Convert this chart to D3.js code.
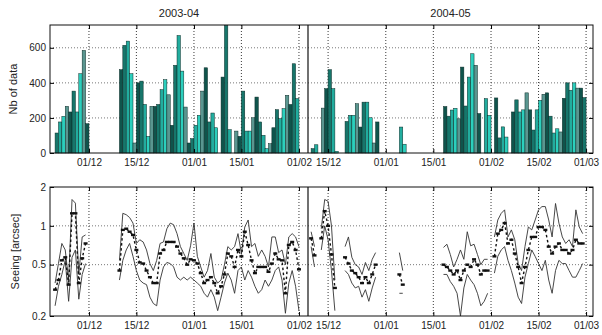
<!DOCTYPE html>
<html>
<head>
<meta charset="utf-8">
<script src="https://cdn.jsdelivr.net/npm/d3@7"></script>
<style>
  body { margin: 0; background: #fff; }
  text { font-family: "Liberation Sans", Arial, sans-serif; fill: #222; }
</style>
</head>
<body>
<div id="chart"></div>
<script>
// ---- data ----
const titles = ['2003-04', '2004-05'];
const tickDates2003 = ['2003-12-01', '2003-12-15', '2004-01-01', '2004-01-15', '2004-02-01'];
const tickDates2004 = ['2004-12-15', '2005-01-01', '2005-01-15', '2005-02-01', '2005-02-15', '2005-03-01'];
const nbTicks = [0, 200, 400, 600];
const seeingTicks = [0.2, 0.5, 1, 2];

// number of data per night, one value per day from the start date (0 = no data)
const nbStart2003 = '2003-11-21';
const nb2003 = [114, 177, 209, 266, 234, 353, 234, 452, 585, 167,
  0, 0, 0, 0, 0, 0, 0, 0, 0,
  475, 614, 638, 452, 57, 400, 410, 277, 95, 266, 266, 277, 361, 418, 332, 158, 500, 670, 467, 262, 57, 82,
  158, 215, 353, 486, 177, 228, 144, 0, 433, 728, 133, 0, 125, 95, 353, 125, 125, 201, 319, 177,
  101, 25, 53, 144, 247, 196, 253, 329, 277, 509, 310];

const nbStart2004 = '2004-12-10';
const nb2004 = [25, 47, 0, 256, 367, 475, 367, 10, 0, 0, 180, 215, 215, 281, 148, 290, 290, 201, 57, 177, 0, 0,
  0, 0, 0, 0, 148, 50, 0, 0, 0, 0, 0, 0, 0, 0, 0, 0, 0,
  265, 210, 245, 255, 195, 490, 268, 433, 566, 500, 225, 0, 310, 215,
  0, 314, 86, 149, 91, 0, 234, 303, 234, 246, 343, 246, 131, 246, 300, 335, 343, 210, 114, 138, 120,
  312, 400, 358, 400, 370, 370, 316];

// seeing [arcsec]: upper, median, lower envelope per day (null = no data)
const seeingStart2003 = '2003-11-21';
const seeingUp2003 = [0.36, 0.51, 0.73, 0.65, 0.38, 1.6, 1.5, 0.42, 0.82, 0.85,
  null, null, null, null, null, null, null, null, null,
  0.54, 1.25, 1.22, 1.16, 1.05, 0.73, 0.78, 0.75, 0.65, 0.51, 0.45, 0.54, 0.73, 0.75, 0.95, 1.05, 1.02, 0.87, 0.69, 0.61, 0.54, 0.70,
  1.05, 0.58, 0.48, 0.40, 0.45, 0.61, 0.40, 0.36, 0.38, 0.50, 0.69, 0.65, 0.69, 0.87, 0.61, 0.98,
  1.11, 0.69, 0.73, 0.58, 0.65, 0.58, 0.48, 0.82, 0.82, 0.62, 0.65, 0.50, 0.82, 0.87, 0.82, 0.69];
const seeingMed2003 = [0.32, 0.38, 0.54, 0.57, 0.35, 1.25, 1.25, 0.36, 0.56, 0.73,
  null, null, null, null, null, null, null, null, null,
  0.45, 0.93, 0.95, 0.90, 0.85, 0.65, 0.52, 0.51, 0.45, 0.40, 0.36, 0.36, 0.61, 0.65, 0.75, 0.75, 0.75, 0.69, 0.61, 0.56, 0.50, 0.55,
  0.54, 0.51, 0.43, 0.36, 0.38, 0.40, 0.36, 0.30, 0.34, 0.42, 0.61, 0.58, 0.48, 0.65, 0.58, 0.90,
  0.71, 0.54, 0.43, 0.48, 0.48, 0.48, 0.44, 0.51, 0.61, 0.55, 0.54, 0.30, 0.71, 0.75, 0.65, 0.46];
const seeingLow2003 = [0.24, 0.34, 0.42, 0.54, 0.26, 0.57, 0.65, 0.27, 0.42, 0.51,
  null, null, null, null, null, null, null, null, null,
  0.38, 0.54, 0.65, 0.73, 0.58, 0.45, 0.38, 0.36, 0.35, 0.28, 0.25, 0.24, 0.38, 0.48, 0.52, 0.51, 0.48, 0.40, 0.38, 0.40, 0.38, 0.40,
  0.38, 0.36, 0.34, 0.30, 0.28, 0.32, 0.28, 0.22, 0.28, 0.36, 0.43, 0.38, 0.30, 0.45, 0.48, 0.38,
  0.45, 0.40, 0.34, 0.30, 0.32, 0.38, 0.34, 0.38, 0.45, 0.48, 0.38, 0.21, 0.36, 0.45, 0.34, 0.22];

const seeingStart2004 = '2004-12-10';
const seeingUp2004 = [0.90, 0.69, null, 0.95, 1.6, 1.55, 1.0, 0.38, null, null,
  0.69, 0.82, 0.57, 0.50, 0.48, 0.42, 0.52, 0.45, 0.55, 0.62,
  null, null, null, null, null, null, 0.62, 0.45,
  null, null, null, null, null, null, null, null, null, null, null,
  0.68, 0.72, 0.60, 0.48, 0.55, 0.65, 0.55, 0.90, 0.70, 0.72, 0.60, 0.50, 0.55, 0.55, null,
  0.82, 1.11, 1.25, 1.33, 0.82, 0.93, 0.78, 0.51, 0.45, 0.69, 0.98, 0.93, 1.11, 1.33,
  1.41, 1.41, 1.11, 0.82, 1.49, 1.05, 0.82, 0.73, 0.78, 0.69, 1.33, 0.98, 0.87];
const seeingMed2004 = [0.80, 0.59, null, 0.80, 1.3, 1.0, 0.60, 0.33, null, null,
  0.57, 0.51, 0.45, 0.43, 0.40, 0.36, 0.40, 0.36, 0.42, 0.50,
  null, null, null, null, null, null, 0.42, 0.35,
  null, null, null, null, null, null, null, null, null, null, null,
  0.50, 0.48, 0.45, 0.42, 0.45, 0.38, 0.45, 0.50, 0.48, 0.55, 0.50, 0.42, 0.45, 0.45, null,
  0.58, 0.87, 0.93, 1.05, 0.73, 0.78, 0.61, 0.48, 0.36, 0.48, 0.65, 0.82, 0.82, 0.98,
  0.98, 0.93, 0.69, 0.61, 0.69, 0.73, 0.65, 0.65, 0.61, 0.65, 0.78, 0.73, 0.73];
const seeingLow2004 = [0.69, 0.48, null, 0.65, 1.0, 0.78, 0.45, 0.22, null, null,
  0.45, 0.42, 0.36, 0.33, 0.34, 0.28, 0.32, 0.26, 0.33, 0.40,
  null, null, null, null, null, null, 0.30, 0.30,
  null, null, null, null, null, null, null, null, null, null, null,
  0.42, 0.42, 0.37, 0.34, 0.30, 0.20, 0.33, 0.42, 0.38, 0.35, 0.30, 0.24, 0.26, 0.30, null,
  0.43, 0.58, 0.65, 0.69, 0.54, 0.45, 0.36, 0.28, 0.25, 0.40, 0.51, 0.65, 0.58, 0.51,
  0.45, 0.54, 0.38, 0.30, 0.45, 0.54, 0.51, 0.51, 0.45, 0.40, 0.40, 0.45, 0.51];

// ---- layout ----
const width = 602, height = 335;
const margin = { left: 50, right: 593 };
const split = 308;
const topPanel = { top: 25, bottom: 153 };
const botPanel = { top: 187, bottom: 316 };
const barColors = ['#17766b', '#2ccfbd', '#0f544c', '#22ad9f', '#5a9690'];

const parse = d3.utcParse('%Y-%m-%d');
const fmt = d3.utcFormat('%d/%m');

const svg = d3.select('#chart').append('svg')
  .attr('width', width)
  .attr('height', height);

const xLeft = d3.scaleUtc()
  .domain([new Date(Date.UTC(2003, 10, 19, 12)), new Date(Date.UTC(2004, 1, 3, 16))])
  .range([margin.left, split]);
const xRight = d3.scaleUtc()
  .domain([new Date(Date.UTC(2004, 11, 9, 2)), new Date(Date.UTC(2005, 2, 3, 1))])
  .range([split, margin.right]);

const yNb = d3.scaleLinear().domain([0, 730]).range([topPanel.bottom, topPanel.top]);
const ySeeing = d3.scaleLog().domain([0.2, 2]).range([botPanel.bottom, botPanel.top]);

function byDay(start, values) {
  const s = parse(start);
  return values.map((v, i) => ({ date: d3.utcDay.offset(s, i), v }));
}

function seeingDays(start, up, med, low) {
  const s = parse(start);
  return up.map((u, i) => ({ date: d3.utcDay.offset(s, i), up: u, med: med[i], low: low[i] }));
}

const seasons = [
  { title: titles[0], x: xLeft, ticks: tickDates2003.map(parse),
    nb: byDay(nbStart2003, nb2003),
    seeing: seeingDays(seeingStart2003, seeingUp2003, seeingMed2003, seeingLow2003) },
  { title: titles[1], x: xRight, ticks: tickDates2004.map(parse),
    nb: byDay(nbStart2004, nb2004),
    seeing: seeingDays(seeingStart2004, seeingUp2004, seeingMed2004, seeingLow2004) }
];

// ---- grids ----
function hGrid(y, values) {
  svg.append('g').selectAll('line')
    .data(values)
    .enter()
    .append('line')
    .attr('x1', margin.left).attr('x2', margin.right)
    .attr('y1', d => y(d)).attr('y2', d => y(d))
    .attr('stroke', '#555')
    .attr('stroke-width', 0.8)
    .attr('stroke-dasharray', '1,2');
}
hGrid(yNb, nbTicks.slice(1));
hGrid(ySeeing, [0.5, 1]);

seasons.forEach(s => {
  [topPanel, botPanel].forEach(p => {
    svg.append('g').selectAll('line')
      .data(s.ticks)
      .enter()
      .append('line')
      .attr('x1', d => s.x(d)).attr('x2', d => s.x(d))
      .attr('y1', p.top).attr('y2', p.bottom)
      .attr('stroke', '#222')
      .attr('stroke-width', 0.9)
      .attr('stroke-dasharray', '1,2');
  });
});

// ---- bars ----
seasons.forEach(s => {
  svg.append('g').selectAll('rect')
    .data(s.nb.map((d, i) => ({ ...d, i })).filter(d => d.v > 0))
    .enter()
    .append('rect')
    .attr('x', d => s.x(d.date))
    .attr('width', d => s.x(d3.utcDay.offset(d.date, 1)) - s.x(d.date))
    .attr('y', d => yNb(d.v))
    .attr('height', d => yNb(0) - yNb(d.v))
    .attr('fill', d => barColors[(d.i * 3) % barColors.length])
    .attr('stroke', '#0b2b27')
    .attr('stroke-width', 0.5);
});

// ---- seeing lines ----
seasons.forEach(s => {
  const mk = key => d3.line()
    .defined(d => d[key] != null)
    .x(d => s.x(d.date))
    .y(d => ySeeing(d[key]));

  ['up', 'low'].forEach(key => {
    svg.append('path')
      .datum(s.seeing)
      .attr('fill', 'none')
      .attr('stroke', '#333')
      .attr('stroke-width', 0.9)
      .attr('d', mk(key));
  });

  svg.append('path')
    .datum(s.seeing)
    .attr('fill', 'none')
    .attr('stroke', '#111')
    .attr('stroke-width', 1.4)
    .attr('stroke-dasharray', '2.5,2.5')
    .attr('d', mk('med'));

  // median markers: short thick dashes
  svg.append('g').selectAll('rect')
    .data(s.seeing.filter(d => d.med != null))
    .enter()
    .append('rect')
    .attr('x', d => s.x(d.date) - 2)
    .attr('y', d => ySeeing(d.med) - 1.2)
    .attr('width', 4)
    .attr('height', 2.4)
    .attr('fill', '#111');
});

// ---- axes ----
seasons.forEach(s => {
  [topPanel, botPanel].forEach(p => {
    const gb = svg.append('g')
      .attr('transform', `translate(0, ${p.bottom})`)
      .call(d3.axisBottom(s.x).tickValues(s.ticks).tickFormat(fmt).tickSize(-4).tickPadding(6));
    gb.select('.domain').remove();
    gb.selectAll('text').style('font-size', '10px');

    const gt = svg.append('g')
      .attr('transform', `translate(0, ${p.top})`)
      .call(d3.axisTop(s.x).tickValues(s.ticks).tickFormat('').tickSize(-4));
    gt.select('.domain').remove();
  });

  svg.append('text')
    .attr('x', (s.x.range()[0] + s.x.range()[1]) / 2)
    .attr('y', 17)
    .attr('text-anchor', 'middle')
    .style('font-size', '11px')
    .text(s.title);
});

function yAxes(y, values, format) {
  const gl = svg.append('g')
    .attr('transform', `translate(${margin.left}, 0)`)
    .call(d3.axisLeft(y).tickValues(values).tickFormat(format).tickSize(-4).tickPadding(4));
  gl.select('.domain').remove();
  gl.selectAll('text').style('font-size', '10px');

  const gr = svg.append('g')
    .attr('transform', `translate(${margin.right}, 0)`)
    .call(d3.axisRight(y).tickValues(values).tickFormat('').tickSize(-4));
  gr.select('.domain').remove();
}
yAxes(yNb, nbTicks, d3.format('d'));
yAxes(ySeeing, seeingTicks, d3.format('~g'));

// boxes and season divider
[topPanel, botPanel].forEach(p => {
  svg.append('rect')
    .attr('x', margin.left).attr('y', p.top)
    .attr('width', margin.right - margin.left)
    .attr('height', p.bottom - p.top)
    .attr('fill', 'none')
    .attr('stroke', '#111')
    .attr('stroke-width', 1);
  svg.append('line')
    .attr('x1', split).attr('x2', split)
    .attr('y1', p.top).attr('y2', p.bottom)
    .attr('stroke', '#111')
    .attr('stroke-width', 1.2);
});

svg.append('text')
  .attr('transform', `translate(17, ${(topPanel.top + topPanel.bottom) / 2}) rotate(-90)`)
  .attr('text-anchor', 'middle')
  .style('font-size', '11px')
  .text('Nb of data');

svg.append('text')
  .attr('transform', `translate(19, ${(botPanel.top + botPanel.bottom) / 2}) rotate(-90)`)
  .attr('text-anchor', 'middle')
  .style('font-size', '11px')
  .text('Seeing [arcsec]');
</script>
</body>
</html>
